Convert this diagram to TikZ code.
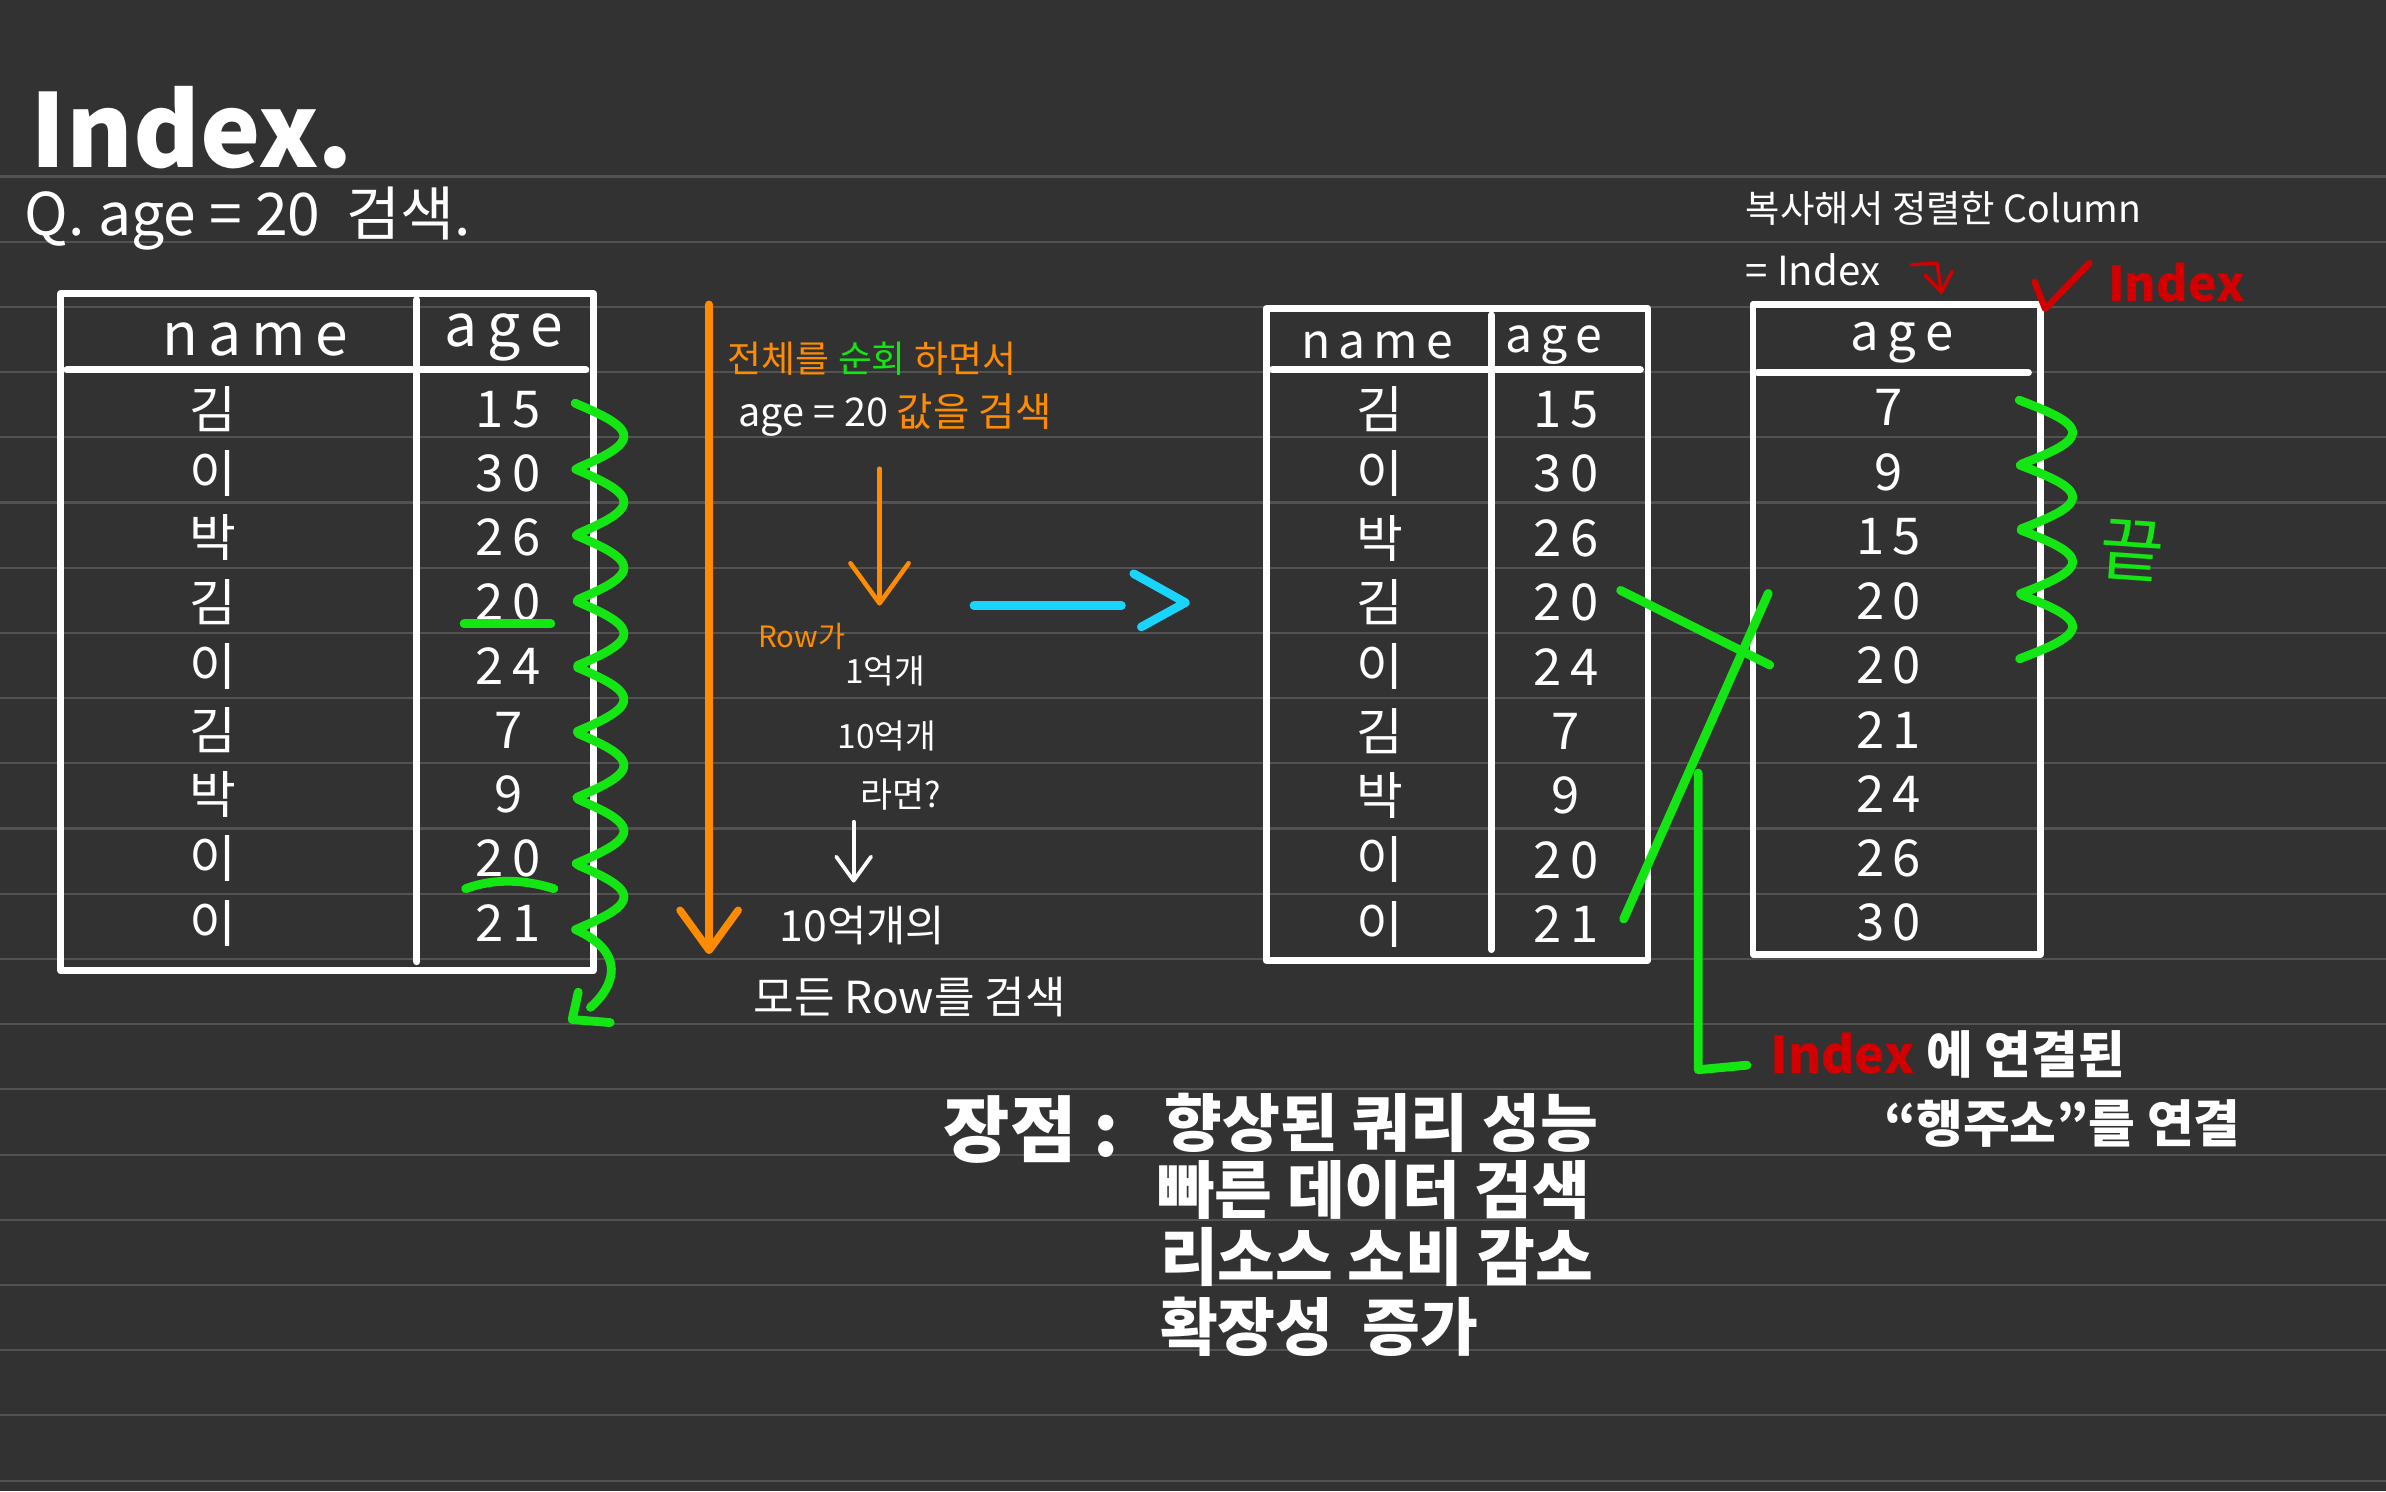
\documentclass[tikz,border=0pt]{standalone}
\usepackage{fontspec}
\setmainfont{Noto Sans CJK KR}
\usetikzlibrary{arrows.meta}

\definecolor{paper}{RGB}{50,50,50}
\definecolor{ruleline}{RGB}{82,82,82}
\definecolor{hlgreen}{RGB}{20,230,20}
\definecolor{hlorange}{RGB}{255,140,0}
\definecolor{hlcyan}{RGB}{25,212,252}
\definecolor{hlred}{RGB}{210,0,0}

\newcommand{\fs}[1]{\fontsize{#1}{#1}\selectfont}

\tikzset{
  tbl/.style={draw=white, line width=2.6pt, line cap=round, line join=round},
  pen/.style={white, inner sep=0pt},
  hdr/.style={pen, font=\fs{22}},
  cell/.style={pen, font=\fs{19}},
  marker/.style={hlgreen, line width=3.3pt, line cap=round, line join=round},
  vtip/.style={-{Straight Barb[length=#1, width=1.45*#1, round]}}
}

\begin{document}
\begin{tikzpicture}[x=0.2mm, y=-0.2mm]
    % Paper
    \useasboundingbox (0,0) rectangle (1568,980);
    \fill[paper] (0,0) rectangle (1568,980);
    \foreach \k in {0,...,20} {
        \draw[ruleline, line width=0.8pt] (0,{116+42.85*\k}) -- (1568,{116+42.85*\k});
    }

    % Title
    \node[pen, font=\fs{38}\bfseries, anchor=base west] (title) at (20,110) {Index.};
    \node[pen, font=\fs{22}, anchor=base west] (question) at (16,155) {Q. age = 20\ \ 검색.};

    % Table - full
    \begin{scope}
        \draw[tbl] (40,193) rectangle (390,638);
        \draw[tbl] (44,243) -- (385,243);
        \draw[tbl] (274,197) -- (274,632);
        \node[hdr] (fullname) at (168,223) {n\,a\,m\,e};
        \node[hdr] (fullage) at (331,222) {a\,g\,e};
        \foreach \nm/\ag [count=\i] in {김/1\,5, 이/3\,0, 박/2\,6, 김/2\,0, 이/2\,4, 김/7, 박/9, 이/2\,0, 이/2\,1} {
            \node[cell] (fn\i) at (140,{269+42.2*(\i-1)}) {\nm};
            \node[cell] (fa\i) at (334,{269+42.2*(\i-1)}) {\ag};
        }
        % matching rows
        \draw[marker] (305,410) -- (362,410);
        \draw[marker] (306,584) .. controls (325,577) and (345,578) .. (364,584);
        % full scan
        \draw[marker] plot[domain=0:8, samples=240] ({378+32*abs(sin(180*\x))}, {265+43.25*\x})
            .. controls (412,626) and (404,648) .. (388,662);
        \draw[marker] (380,652) -- (376,670) -- (401,672);
    \end{scope}

    % Full scan note
    \draw[hlorange, line width=2.8pt, line cap=round, vtip=15pt] (466,200) -- (466,627);
    \node[pen, hlorange, font=\fs{13.8}, anchor=west] (scan) at (478,236) {전체를 \textcolor{hlgreen}{순회} 하면서};
    \node[pen, font=\fs{14.8}, anchor=west] (find) at (485,273) {age = 20 \textcolor{hlorange}{값을 검색}};
    \draw[hlorange, line width=1.7pt, line cap=round, vtip=15pt] (578,308) -- (578,398);
    \node[pen, hlorange, font=\fs{11}, anchor=west] (rowga) at (498,418) {Row가};
    \node[pen, font=\fs{12.5}, anchor=west] (oneeok) at (555,441) {1억개};
    \node[pen, font=\fs{12.5}, anchor=west] (teneok) at (550,484) {10억개};
    \node[pen, font=\fs{13}, anchor=west] (ramyeon) at (565,522) {라면?};
    \draw[white, line width=1.4pt, line cap=round, vtip=9pt] (561,540) -- (561,580);
    \node[pen, font=\fs{16}, anchor=west] (teneokui) at (512,608) {10억개의};
    \node[pen, font=\fs{16.5}, anchor=west] (allrows) at (495,655) {모든 Row를 검색};

    % Copy step
    \coordinate (cfrom) at (640,398);
    \coordinate (cto) at (737,398);
    \draw[hlcyan, line width=3.2pt, line cap=round] (cfrom) -- (cto);
    \draw[hlcyan, line width=3.2pt, line cap=round, line join=round] (745,377) -- (779,396) -- (750,412);

    % Table - copy
    \begin{scope}
        \draw[tbl] (832,203) rectangle (1083,631);
        \draw[tbl] (836,243) -- (1078,243);
        \draw[tbl] (980,207) -- (980,624);
        \node[hdr, font=\fs{18}] (tname) at (905,227) {n\,a\,m\,e};
        \node[hdr, font=\fs{18}] (tage) at (1021,227) {a\,g\,e};
        \foreach \nm/\ag [count=\i] in {김/1\,5, 이/3\,0, 박/2\,6, 김/2\,0, 이/2\,4, 김/7, 박/9, 이/2\,0, 이/2\,1} {
            \node[cell] (tn\i) at (907,{269+42.3*(\i-1)}) {\nm};
            \node[cell] (ta\i) at (1029,{269+42.3*(\i-1)}) {\ag};
        }
    \end{scope}

    % Table - index
    \begin{scope}
        \draw[tbl] (1152,200) rectangle (1341,627);
        \draw[tbl] (1155,245) -- (1333,245);
        \node[hdr, font=\fs{19}] (iage) at (1250,225) {a\,g\,e};
        \foreach \ag [count=\i] in {7, 9, 1\,5, 2\,0, 2\,0, 2\,1, 2\,4, 2\,6, 3\,0} {
            \node[cell] (ia\i) at (1241,{268+42.3*(\i-1)}) {\ag};
        }
        % stop point
        \draw[marker] plot[domain=0:4, samples=160] ({1327+35*abs(sin(180*\x))}, {263+42.5*\x});
        \node[pen, hlgreen, font=\fs{26}, rotate=-4] (kkeut) at (1401,362) {끝};
    \end{scope}

    % Index labels
    \node[pen, font=\fs{14}, anchor=west] (copysort) at (1147,137) {복사해서 정렬한 Column};
    \node[pen, font=\fs{15}, anchor=west] (eqindex) at (1147,177) {= Index};
    \draw[hlred, line width=1.3pt, line cap=round, line join=round, vtip=7pt] (1256,174) -- (1273,173) -- (1276,193);
    \draw[hlred, line width=2.4pt, line cap=round, line join=round] (1337,185) -- (1344,203) -- (1373,173);
    \node[pen, hlred, font=\fs{18}\bfseries, anchor=west] (redindex) at (1385,186) {Index};

    % Row address links
    \draw[marker] (1065,388) -- (1163,437);
    \draw[marker] (1067,604) -- (1162,390);
    \coordinate (ltop) at (1116,508);
    \coordinate (lcorner) at (1116,703);
    \coordinate (lend) at (1148,700);
    \draw[marker] (ltop) -- (lcorner) -- (lend);
    \node[pen, font=\fs{19}\bfseries, anchor=west] (linked) at (1163,693) {\textcolor{hlred}{Index} 에 연결된};
    \node[pen, font=\fs{19}\bfseries, anchor=west] (rowaddr) at (1238,738) {``행주소''를 연결};

    % Pros
    \node[pen, font=\fs{27}\bfseries, anchor=west] (pros) at (620,742) {장점 :};
    \node[pen, font=\fs{23.5}\bfseries, anchor=west] (pro1) at (765,738) {향상된 쿼리 성능};
    \node[pen, font=\fs{23.5}\bfseries, anchor=west] (pro2) at (760,782) {빠른 데이터 검색};
    \node[pen, font=\fs{23.5}\bfseries, anchor=west] (pro3) at (762,826) {리소스 소비 감소};
    \node[pen, font=\fs{23.5}\bfseries, anchor=west] (pro4) at (762,872) {확장성\ \ 증가};
\end{tikzpicture}
\end{document}
